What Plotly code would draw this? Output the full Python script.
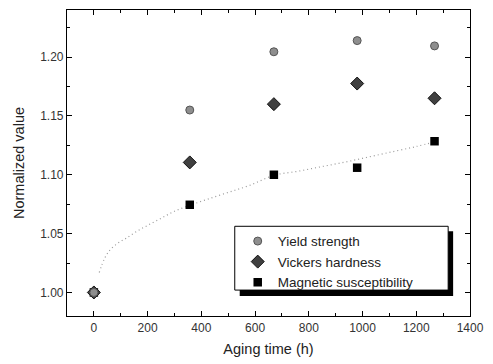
import plotly.graph_objects as go

# Data
aging_time = [0, 357, 670, 980, 1268]
yield_strength = [1.000, 1.155, 1.2045, 1.214, 1.2095]
vickers_hardness = [1.000, 1.1105, 1.160, 1.1775, 1.165]
magnetic_susc = [1.000, 1.0745, 1.100, 1.106, 1.1285]

# Dotted guide curve through magnetic susceptibility
fit_x = [20, 40, 60, 90, 120, 160, 200, 250, 300, 357, 420, 500, 580, 670, 760, 850, 940, 1030, 1120, 1200, 1268]
fit_y = [1.017, 1.029, 1.036, 1.042, 1.046, 1.052, 1.057, 1.063, 1.069, 1.074, 1.079, 1.085, 1.091, 1.0995,
         1.103, 1.107, 1.111, 1.1155, 1.120, 1.124, 1.128]

x_ticks = [0, 200, 400, 600, 800, 1000, 1200, 1400]
y_ticks = [1.00, 1.05, 1.10, 1.15, 1.20]
y_tick_text = ["1.00", "1.05", "1.10", "1.15", "1.20"]

FONT = "Liberation Sans, Arial, sans-serif"

fig = go.Figure()
fig.add_trace(go.Scatter(x=fit_x, y=fit_y, mode="lines",
                         line=dict(color="#9a9a9a", width=1.2, dash="1px,3px", shape="spline"),
                         showlegend=False, hoverinfo="skip"))
fig.add_trace(go.Scatter(x=aging_time, y=magnetic_susc, mode="markers", name="Magnetic susceptibility",
                         marker=dict(symbol="square", size=8.5, color="#000000", line=dict(color="#000", width=0))))
fig.add_trace(go.Scatter(x=aging_time, y=vickers_hardness, mode="markers", name="Vickers hardness",
                         marker=dict(symbol="diamond", size=10, color="#404040", line=dict(color="#111", width=1))))
fig.add_trace(go.Scatter(x=aging_time, y=yield_strength, mode="markers", name="Yield strength",
                         marker=dict(symbol="circle", size=8, color="#8e8e8e", line=dict(color="#555", width=1))))

axis_common = dict(showgrid=False, zeroline=False, showline=True, linecolor="#000", linewidth=1.2,
                   mirror="ticks", ticks="inside", ticklen=5, tickcolor="#000", tickwidth=1,
                   tickfont=dict(family=FONT, size=12, color="#333"))

fig.update_xaxes(range=[-100, 1400], tickvals=x_ticks,
                 minor=dict(dtick=100, ticks="inside", ticklen=3, tickcolor="#000"),
                 title=dict(text="Aging time (h)", font=dict(family=FONT, size=14.5, color="#222"), standoff=10),
                 **axis_common)
fig.update_yaxes(range=[0.98, 1.24], tickvals=y_ticks, ticktext=y_tick_text,
                 minor=dict(dtick=0.025, tick0=1.0, ticks="inside", ticklen=3, tickcolor="#000"),
                 title=dict(text="Normalized value", font=dict(family=FONT, size=14.5, color="#222"), standoff=12),
                 **axis_common)

def px_x(px):
    return (px - 67) / 406

def px_y(py):
    return (316 - py) / 307

fig.add_shape(type="rect", xref="paper", yref="paper", x0=px_x(241), x1=px_x(456), y0=px_y(296), y1=px_y(231),
              fillcolor="#000", line=dict(width=0), layer="above")
fig.add_shape(type="rect", xref="paper", yref="paper", x0=px_x(236), x1=px_x(451), y0=px_y(290), y1=px_y(226),
              fillcolor="#fff", line=dict(color="#000", width=1), layer="above")

fig.update_layout(
    width=493, height=364,
    margin=dict(l=67, r=20, t=9, b=48),
    paper_bgcolor="#fff", plot_bgcolor="#fff",
    font=dict(family=FONT, color="#222"),
    legend=dict(x=px_x(239), y=px_y(225.5), xanchor="left", yanchor="top", traceorder="reversed",
                bgcolor="rgba(0,0,0,0)", borderwidth=0, font=dict(family=FONT, size=13.5, color="#222")),
)

fig.write_html("out.html")
